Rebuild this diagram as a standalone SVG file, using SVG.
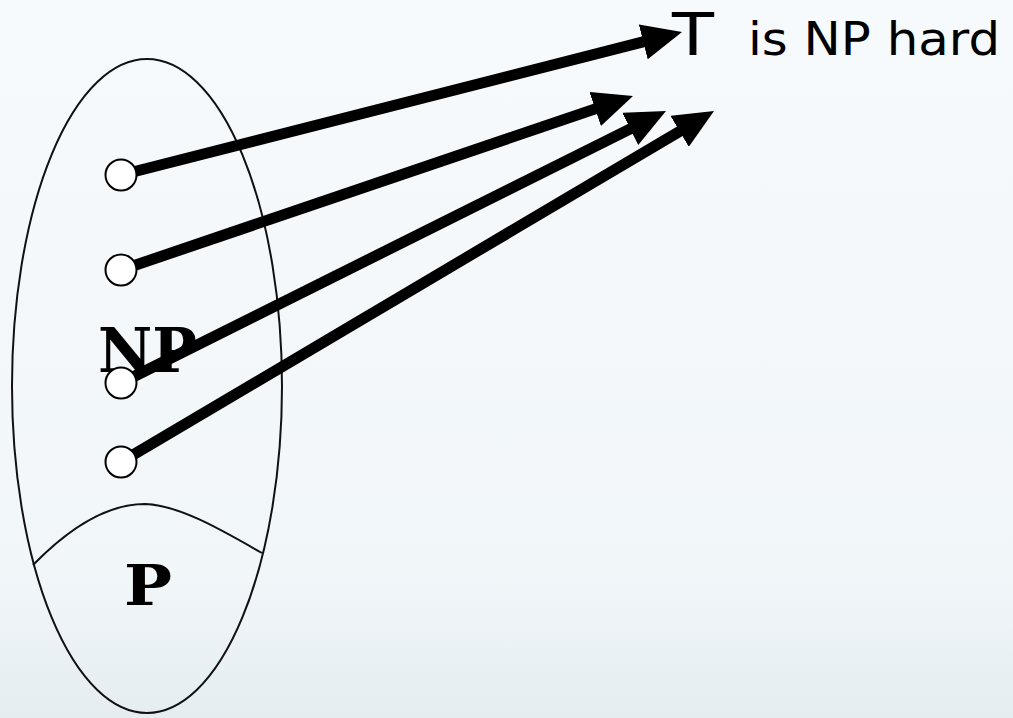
<svg xmlns="http://www.w3.org/2000/svg" width="1013" height="718" viewBox="0 0 1013 718">
  <defs>
    <linearGradient id="bg" x1="0" y1="0" x2="0" y2="1">
      <stop offset="0" stop-color="#f7fafd"/>
      <stop offset="0.8" stop-color="#f1f6f9"/>
      <stop offset="1" stop-color="#e5edf1"/>
    </linearGradient>
    <marker id="head" viewBox="0 0 40 36" refX="18" refY="18" markerWidth="40" markerHeight="36" markerUnits="userSpaceOnUse" orient="auto">
      <path d="M0,0 L40,18 L0,36 Z" fill="#000"/>
    </marker>
    <style>
      .outline { fill: none; stroke: #111; stroke-width: 2; }
      .edge { stroke: #000; stroke-width: 11; fill: none; marker-end: url(#head); }
      .dot { fill: #fff; stroke: #000; stroke-width: 2; }
      .setlabel { font-family: "DejaVu Serif", "Liberation Serif", serif; font-weight: bold; fill: #000; }
      .title { font-family: "DejaVu Sans", "Liberation Sans", sans-serif; fill: #000; }
    </style>
  </defs>

  <rect x="0" y="0" width="1013" height="718" fill="url(#bg)"/>

  <!-- set NP with P at its base -->
  <g id="set-np">
    <ellipse class="outline" cx="147" cy="386" rx="135" ry="327"/>
    <text class="setlabel" x="98" y="372" font-size="62" textLength="99" lengthAdjust="spacingAndGlyphs">NP</text>
  </g>
  <g id="set-p">
    <path class="outline" d="M33,565 C75,522 112,504 145,504 C180,505 225,532 262,553"/>
    <text class="setlabel" x="124" y="605" font-size="56" textLength="48" lengthAdjust="spacingAndGlyphs">P</text>
  </g>

  <!-- reductions into T -->
  <g id="connectors">
    <line class="edge" x1="121" y1="175" x2="660.7" y2="37.4"/>
    <line class="edge" x1="121" y1="270" x2="612.2" y2="103.1"/>
    <line class="edge" x1="121" y1="383" x2="646.3" y2="120.8"/>
    <line class="edge" x1="121" y1="462" x2="695.1" y2="122.2"/>
  </g>

  <g id="problem-1"><circle class="dot" cx="121" cy="175" r="15.5"/></g>
  <g id="problem-2"><circle class="dot" cx="121" cy="270" r="15.5"/></g>
  <g id="problem-3"><circle class="dot" cx="121" cy="383" r="15.5"/></g>
  <g id="problem-4"><circle class="dot" cx="121" cy="462" r="15.5"/></g>

  <g id="target-t">
    <text class="title" x="672" y="55" font-size="58" textLength="42" lengthAdjust="spacingAndGlyphs">T</text>
    <text class="title" x="748" y="55" font-size="46" textLength="252" lengthAdjust="spacingAndGlyphs">is NP hard</text>
  </g>
</svg>
